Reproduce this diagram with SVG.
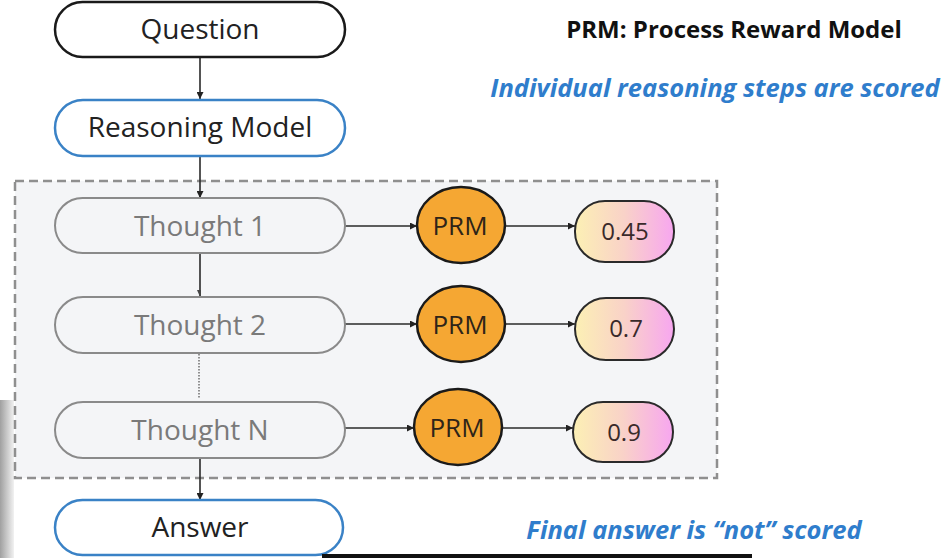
<svg xmlns="http://www.w3.org/2000/svg" width="951" height="558" viewBox="0 0 951 558">
  <defs>
    <linearGradient id="score" x1="0" y1="0" x2="1" y2="0">
      <stop offset="0" stop-color="#fcf0b4"/>
      <stop offset="0.5" stop-color="#f9d2c8"/>
      <stop offset="1" stop-color="#f7a6f0"/>
    </linearGradient>
    <linearGradient id="edge" x1="0" y1="0" x2="1" y2="0">
      <stop offset="0" stop-color="#a0a0a0"/>
      <stop offset="1" stop-color="#f2f2f2"/>
    </linearGradient>
    <marker id="arr" viewBox="0 0 10 10" refX="10" refY="5" markerWidth="7" markerHeight="7" markerUnits="userSpaceOnUse" orient="auto">
      <path d="M0,0 L10,5 L0,10 z" fill="#222"/>
    </marker>
  </defs>
  <style>
    .t { font-family: "Open Sans", "Noto Sans", "Liberation Sans", sans-serif; text-anchor: middle; }
    .pill-q { fill: #fff; stroke: #1a1a1a; stroke-width: 2.5; }
    .pill-b { fill: #fff; stroke: #3a82c6; stroke-width: 2.5; }
    .pill-g { fill: #f4f5f7; stroke: #8a8a8a; stroke-width: 2; }
    .main { font-size: 28px; fill: #222; }
    .thought { font-size: 28px; fill: #7a7a7a; }
    .prm { fill: #f5a733; stroke: #1a1a1a; stroke-width: 2.5; }
    .prmt { font-size: 26px; fill: #2e2418; }
    .score { fill: url(#score); stroke: #2a2a2a; stroke-width: 2; }
    .scoret { font-size: 24px; fill: #3a2a2a; }
    .conn { stroke: #2a2a2a; stroke-width: 1.6; fill: none; }
    .note { font-family: "Open Sans", "Noto Sans", "Liberation Sans", sans-serif; font-style: italic; font-weight: 700; fill: #2f7dcc; text-anchor: middle; }
  </style>

  <rect x="0" y="0" width="951" height="558" fill="#ffffff"/>
  <rect x="0" y="400" width="14" height="158" fill="url(#edge)"/>

  <g id="group-box">
    <rect x="15" y="181" width="702" height="297" fill="#f4f5f7" stroke="#8f8f8f" stroke-width="2.5" stroke-dasharray="9 5"/>
  </g>

  <g id="connectors">
    <line class="conn" x1="200" y1="57" x2="200" y2="99" marker-end="url(#arr)"/>
    <line class="conn" x1="200" y1="156" x2="200" y2="198" marker-end="url(#arr)"/>
    <line class="conn" x1="200" y1="253" x2="200" y2="308" stroke="#555"/>
    <path d="M197,290 L201,290 L201,299 z" fill="#444"/>
    <line x1="199" y1="354" x2="199" y2="398" stroke="#777" stroke-width="1.6" stroke-dasharray="1.5 1.5"/>
    <line class="conn" x1="200" y1="458" x2="200" y2="500" marker-end="url(#arr)"/>
    <line class="conn" x1="345" y1="226" x2="417" y2="226" marker-end="url(#arr)"/>
    <line class="conn" x1="505" y1="226" x2="575" y2="226" marker-end="url(#arr)"/>
    <line class="conn" x1="345" y1="324" x2="417" y2="324" marker-end="url(#arr)"/>
    <line class="conn" x1="505" y1="324" x2="575" y2="324" marker-end="url(#arr)"/>
    <line class="conn" x1="345" y1="428" x2="414" y2="428" marker-end="url(#arr)"/>
    <line class="conn" x1="503" y1="428" x2="573" y2="428" marker-end="url(#arr)"/>
  </g>

  <g id="question">
    <rect class="pill-q" x="55" y="2" width="290" height="55" rx="27.5"/>
    <text class="t main" x="200" y="39">Question</text>
  </g>
  <g id="reasoning-model">
    <rect class="pill-b" x="55" y="100" width="290" height="56" rx="28"/>
    <text class="t main" x="200" y="137">Reasoning Model</text>
  </g>
  <g id="thought-1">
    <rect class="pill-g" x="55" y="198" width="290" height="55" rx="27.5"/>
    <text class="t thought" x="200" y="236">Thought 1</text>
  </g>
  <g id="thought-2">
    <rect class="pill-g" x="55" y="297" width="290" height="56" rx="28"/>
    <text class="t thought" x="200" y="335">Thought 2</text>
  </g>
  <g id="thought-n">
    <rect class="pill-g" x="55" y="402" width="290" height="56" rx="28"/>
    <text class="t thought" x="200" y="440">Thought N</text>
  </g>
  <g id="answer">
    <rect class="pill-b" x="55" y="500" width="288" height="55" rx="27.5"/>
    <text class="t main" x="200" y="537">Answer</text>
  </g>

  <g id="prm-1">
    <ellipse class="prm" cx="461" cy="225" rx="44" ry="38"/>
    <text class="t prmt" x="460" y="235">PRM</text>
  </g>
  <g id="prm-2">
    <ellipse class="prm" cx="461" cy="324" rx="44" ry="38"/>
    <text class="t prmt" x="460" y="334">PRM</text>
  </g>
  <g id="prm-3">
    <ellipse class="prm" cx="458" cy="427" rx="44" ry="38"/>
    <text class="t prmt" x="457" y="437">PRM</text>
  </g>

  <g id="score-1">
    <rect class="score" x="575" y="201" width="99" height="61" rx="30"/>
    <text class="t scoret" x="625" y="240">0.45</text>
  </g>
  <g id="score-2">
    <rect class="score" x="575" y="298" width="99" height="62" rx="31"/>
    <text class="t scoret" x="626" y="337">0.7</text>
  </g>
  <g id="score-3">
    <rect class="score" x="573" y="402" width="100" height="60" rx="30"/>
    <text class="t scoret" x="624" y="441">0.9</text>
  </g>

  <g id="legend">
    <text x="734" y="38" font-family="Open Sans, Noto Sans, Liberation Sans, sans-serif" font-weight="700" font-size="24" fill="#111" text-anchor="middle">PRM: Process Reward Model</text>
    <text class="note" x="715" y="97" font-size="25.5">Individual reasoning steps are scored</text>
    <text class="note" x="694" y="539" font-size="25.5">Final answer is “not” scored</text>
  </g>

  <rect x="322" y="554" width="430" height="4" fill="#111"/>
</svg>
